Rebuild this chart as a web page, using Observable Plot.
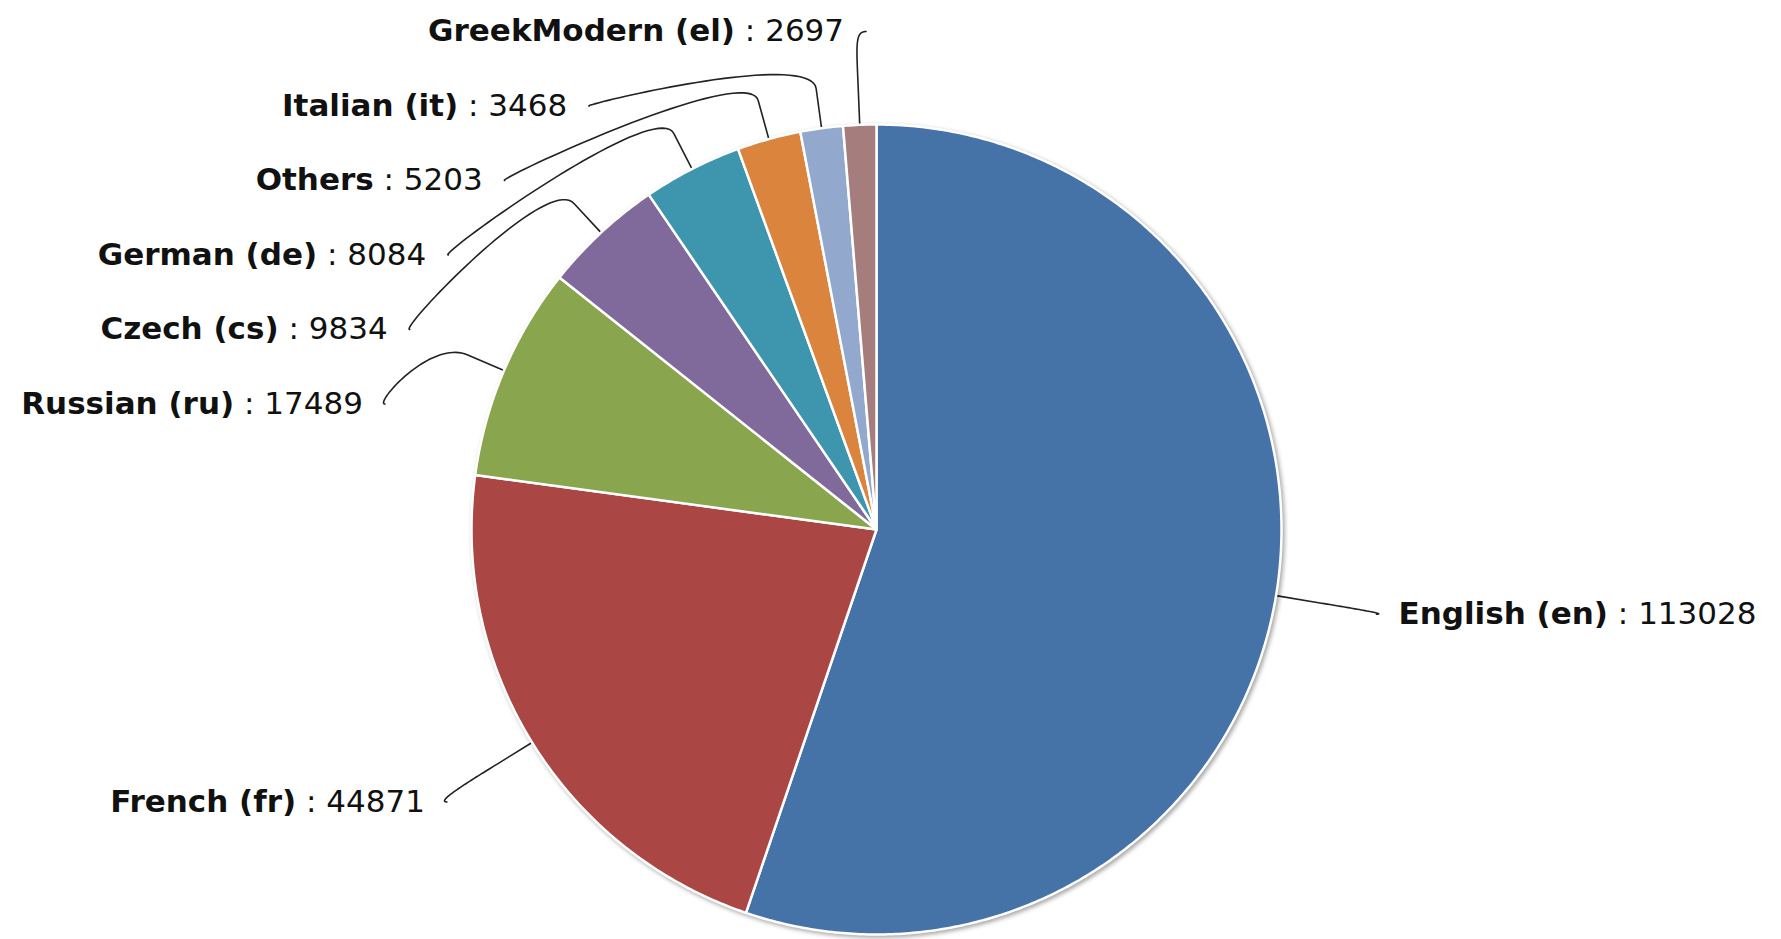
<!DOCTYPE html>
<html><head><meta charset="utf-8">
<script src="https://cdn.jsdelivr.net/npm/d3@7"></script>
<script src="https://cdn.jsdelivr.net/npm/@observablehq/plot@0.6"></script>
<style>
html,body{margin:0;padding:0;background:#fff;}
#chart svg{display:block;}
.pie-slices{filter: drop-shadow(2px 2px 2px rgba(0,0,0,0.35));}
</style></head><body><div id="chart"></div>
<script>
// ---- data ----
const languages = ["English (en)", "French (fr)", "Russian (ru)", "Czech (cs)", "German (de)", "Others", "Italian (it)", "GreekModern (el)"];
const counts = [113028, 44871, 17489, 9834, 8084, 5203, 3468, 2697];
const colors = ["#4572A7", "#AA4643", "#89A54E", "#80699B", "#3D96AE", "#DB843D", "#92A8CD", "#A47D7C"];

// ---- layout ----
const W = 1781, H = 939;
const cx = 876, cy = 529, R = 405;
const labelDist = 113, connOffset = 40, pad = 11, slotH = 74.5, minY = 31;
const FONT = "DejaVu Sans", FS = 31;

const rows = languages.map((name, i) => ({name, value: counts[i]}));
const arcs = d3.pie().sort(null).value(d => d.value)(rows);

// wedge polygons (data units = pixels relative to centre, y up)
const wedges = [];
arcs.forEach(a => {
  const n = Math.max(2, Math.ceil((a.endAngle - a.startAngle) / (Math.PI / 360)));
  wedges.push({name: a.data.name, X: 0, Y: 0});
  for (let k = 0; k <= n; k++) {
    const t = a.startAngle + (a.endAngle - a.startAngle) * k / n;
    wedges.push({name: a.data.name, X: R * Math.sin(t), Y: R * Math.cos(t)});
  }
  wedges.push({name: a.data.name, X: 0, Y: 0});
});

// label layout (pixel space)
const Rl = R + labelDist;
const labels = arcs.map(a => {
  const mid = (a.startAngle + a.endAngle) / 2;
  const left = Math.sin(mid) < 0;
  return {
    name: a.data.name, value: a.data.value, left,
    ex: cx + R * Math.sin(mid), ey: cy - R * Math.cos(mid),
    bx: cx + (R + connOffset) * Math.sin(mid), by: cy - (R + connOffset) * Math.cos(mid),
    ny: cy - Rl * Math.cos(mid)
  };
});
const getX = (y, left) => cx + (left ? -1 : 1) * Math.sqrt(Math.max(0, Rl * Rl - (y - cy) * (y - cy)));
for (const side of [true, false]) {
  const L = labels.filter(l => l.left === side).sort((a, b) => a.ny - b.ny);
  let prev = -Infinity;
  L.forEach((l, i) => {
    l.y = Math.max(l.ny, minY, prev + slotH);
    prev = l.y;
    l.x = getX(i === 0 ? l.ny : l.y, side);
  });
}

// connectors (sampled cubic bezier + straight base)
const conns = [];
labels.forEach(l => {
  const s = l.left ? 1 : -1;
  const p0 = [l.x + s * pad, l.y], p1 = [l.x, l.y],
        p2 = [2 * l.bx - l.ex, 2 * l.by - l.ey], p3 = [l.bx, l.by];
  for (let k = 0; k <= 40; k++) {
    const t = k / 40, u = 1 - t;
    const px = u*u*u*p0[0] + 3*u*u*t*p1[0] + 3*u*t*t*p2[0] + t*t*t*p3[0];
    const py = u*u*u*p0[1] + 3*u*u*t*p1[1] + 3*u*t*t*p2[1] + t*t*t*p3[1];
    conns.push({name: l.name, X: px - cx, Y: cy - py});
  }
  conns.push({name: l.name, X: l.ex - cx, Y: cy - l.ey});
});

const textRows = labels.map(l => ({name: l.name, value: l.value, left: l.left,
  X: (l.x + (l.left ? -pad : pad)) - cx, Y: cy - l.y}));

const chart = Plot.plot({
  width: W, height: H,
  marginTop: 0, marginRight: 0, marginBottom: 0, marginLeft: 0,
  style: {fontFamily: FONT, background: "#fff"},
  x: {domain: [-cx, W - cx], axis: null},
  y: {domain: [cy - H, cy], axis: null},
  color: {domain: languages, range: colors},
  marks: [
    Plot.line(conns, {x: "X", y: "Y", z: "name", stroke: "#222", strokeWidth: 1.6}),
    Plot.line(wedges, {x: "X", y: "Y", z: "name", fill: "name", stroke: "#fff", strokeWidth: 2.5, strokeLinejoin: "round", className: "pie-slices"}),
    Plot.text(textRows.filter(d => d.left), {x: "X", y: "Y", text: "name", textAnchor: "end", fontSize: FS, fill: "#111", className: "lbl"}),
    Plot.text(textRows.filter(d => !d.left), {x: "X", y: "Y", text: "name", textAnchor: "start", fontSize: FS, fill: "#111", className: "lbl"})
  ]
});

// bold name + regular value
const byName = new Map(textRows.map(d => [d.name, d.value]));
chart.querySelectorAll(".lbl text").forEach(t => {
  const name = t.textContent;
  const v = byName.get(name);
  t.textContent = "";
  const b = document.createElementNS("http://www.w3.org/2000/svg", "tspan");
  b.setAttribute("font-weight", "bold");
  b.textContent = name;
  const r = document.createElementNS("http://www.w3.org/2000/svg", "tspan");
  r.textContent = " : " + v;
  t.appendChild(b); t.appendChild(r);
});

document.getElementById("chart").appendChild(chart);
</script></body></html>
